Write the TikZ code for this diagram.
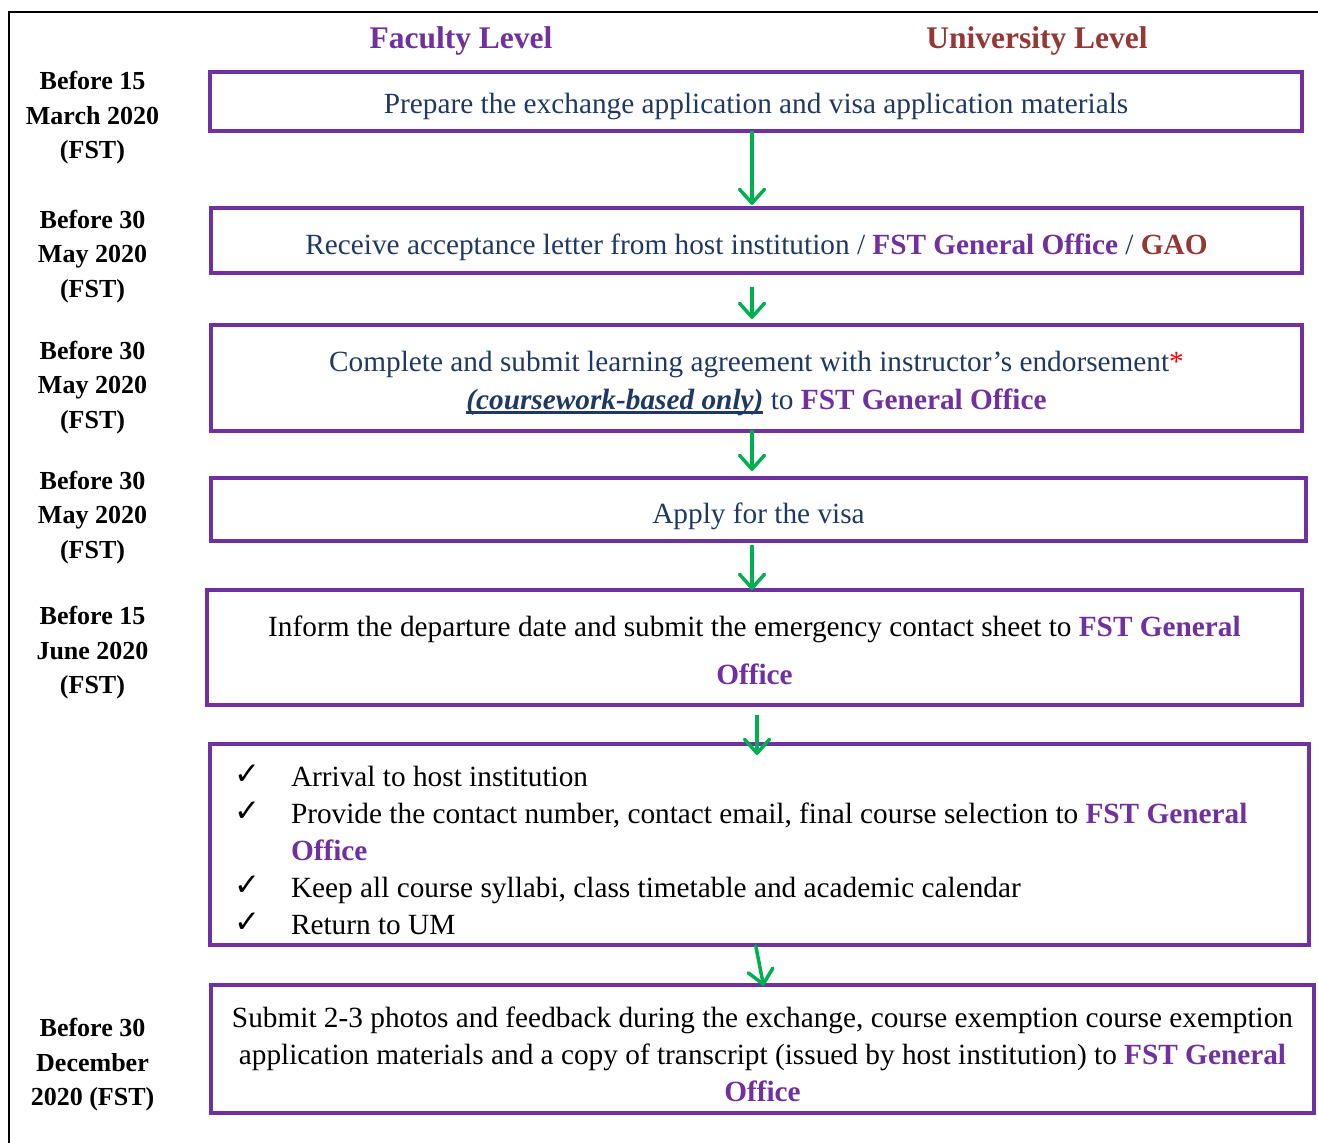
\documentclass[tikz,border=0pt]{standalone}
\usepackage{fontspec}
\setmainfont{Liberation Serif}
\newfontfamily\symfont{DejaVu Sans}
\usetikzlibrary{arrows.meta,calc}
\definecolor{boxpurple}{HTML}{7030A0}
\definecolor{navy}{HTML}{1F3864}
\definecolor{darkred}{HTML}{953735}
\definecolor{arrowgreen}{HTML}{00B050}
\newcommand{\fst}[1]{\textcolor{boxpurple}{\textbf{#1}}}
\newcommand{\gao}[1]{\textcolor{darkred}{\textbf{#1}}}
\newcommand{\ck}{\makebox[57pt][l]{\raisebox{2pt}{\fontsize{31}{31}\symfont ✓}}}
\newcommand{\thickul}[1]{\setbox0\hbox{#1}\rlap{\rule[-4.5pt]{\wd0}{2.4pt}}\box0\relax}
\newcommand{\dn}[1]{\rule{0pt}{#1}}
\begin{document}
\begin{tikzpicture}[x=1pt,y=-1pt,
  stepbox/.style={draw=boxpurple,line width=4pt,rectangle,inner sep=0pt,align=flush center,
    font=\fontsize{29.3}{38}\selectfont},
  datelbl/.style={align=center,inner sep=0pt,font=\fontsize{26}{34.5}\selectfont\bfseries},
  heading/.style={inner sep=0pt,font=\fontsize{31.5}{36}\selectfont\bfseries},
  flow/.style={draw=arrowgreen,line width=3.5pt,-{Straight Barb[length=14pt,width=25pt,round]}}
]
\useasboundingbox (0,0) rectangle (1318,1143);
% frame
\draw[line width=2pt,line cap=rect] (9,1143) -- (9,12) -- (1318,12);

% headings
\node[heading,text=boxpurple] (hfac) at (461,41) {Faculty Level};
\node[heading,text=darkred] (huni) at (1037,40.5) {University Level};

% boxes
\node[stepbox,text=navy,minimum width=1092pt,minimum height=59pt] (b1) at (756,101.5)
  {\dn{30pt}Prepare the exchange application and visa application materials};
\node[stepbox,text=navy,minimum width=1091pt,minimum height=65pt] (b2) at (756.5,240.5)
  {\dn{34pt}Receive acceptance letter from host institution / \fst{FST General Office} / \gao{GAO}};
\node[stepbox,text=navy,minimum width=1091pt,minimum height=106pt] (b3) at (756.5,378)
  {\dn{31pt}Complete and submit learning agreement with instructor’s endorsement\textcolor{red}{*}\\
   \thickul{\textbf{\textit{(coursework-based only)}}} to \fst{FST General Office}};
\node[stepbox,text=navy,minimum width=1095pt,minimum height=63pt] (b4) at (758.5,509.5)
  {\dn{34pt}Apply for the visa};
\node[stepbox,text=black,minimum width=1095pt,minimum height=115pt,
  font=\fontsize{29.3}{48}\selectfont] (b5) at (754.5,647.5)
  {\dn{26pt}Inform the departure date and submit the emergency contact sheet to \fst{FST General}\\
   \fst{Office}};
\node[stepbox,text=black,minimum width=1099pt,minimum height=201pt,align=flush left,
  inner xsep=24pt,text width=1051pt,font=\fontsize{29.3}{37}\selectfont] (b6) at (759.5,844.5)
  {\dn{33pt}\ck Arrival to host institution\\
   \ck Provide the contact number, contact email, final course selection to \fst{FST General}\\
   \makebox[57pt]{}\fst{Office}\\
   \ck Keep all course syllabi, class timetable and academic calendar\\
   \ck Return to UM};
\node[stepbox,text=black,minimum width=1103pt,minimum height=128pt,
  font=\fontsize{29.3}{37}\selectfont] (b7) at (762.5,1049)
  {\dn{32pt}Submit 2-3 photos and feedback during the exchange, course exemption course exemption\\
   application materials and a copy of transcript (issued by host institution) to \fst{FST General}\\
   \fst{Office}};

% date labels
\node[datelbl] (d1) at (92.5,118) {Before 15\\March 2020\\(FST)};
\node[datelbl] (d2) at (92.5,256.5) {Before 30\\May 2020\\(FST)};
\node[datelbl] (d3) at (92.5,387.5) {Before 30\\May 2020\\(FST)};
\node[datelbl] (d4) at (92.5,517.5) {Before 30\\May 2020\\(FST)};
\node[datelbl] (d5) at (92.5,653) {Before 15\\June 2020\\(FST)};
\node[datelbl] (d7) at (92.5,1065) {Before 30\\December\\2020 (FST)};

% arrow columns
\coordinate (ax) at (752,0);
\coordinate (ay) at (757,0);
\coordinate (az1) at (756,0);
\coordinate (az2) at (763,0);

\draw[flow,shorten <=-2pt,shorten >=1pt] (b1.south -| ax) -- (b2.north -| ax);
\draw[flow,shorten <=12pt,shorten >=4pt] (b2.south -| ax) -- (b3.north -| ax);
\draw[flow,shorten <=-3pt,shorten >=5pt] (b3.south -| ax) -- (b4.north -| ax);
\draw[flow,shorten <=2pt,shorten >=-2pt] (b4.south -| ax) -- (b5.north -| ax);
\draw[flow,shorten <=8pt,shorten >=-13pt] (b5.south -| ay) -- (b6.north -| ay);
\draw[flow,shorten <=-2pt,shorten >=-3pt] (b6.south -| az1) -- (b7.north -| az2);
\end{tikzpicture}
\end{document}
